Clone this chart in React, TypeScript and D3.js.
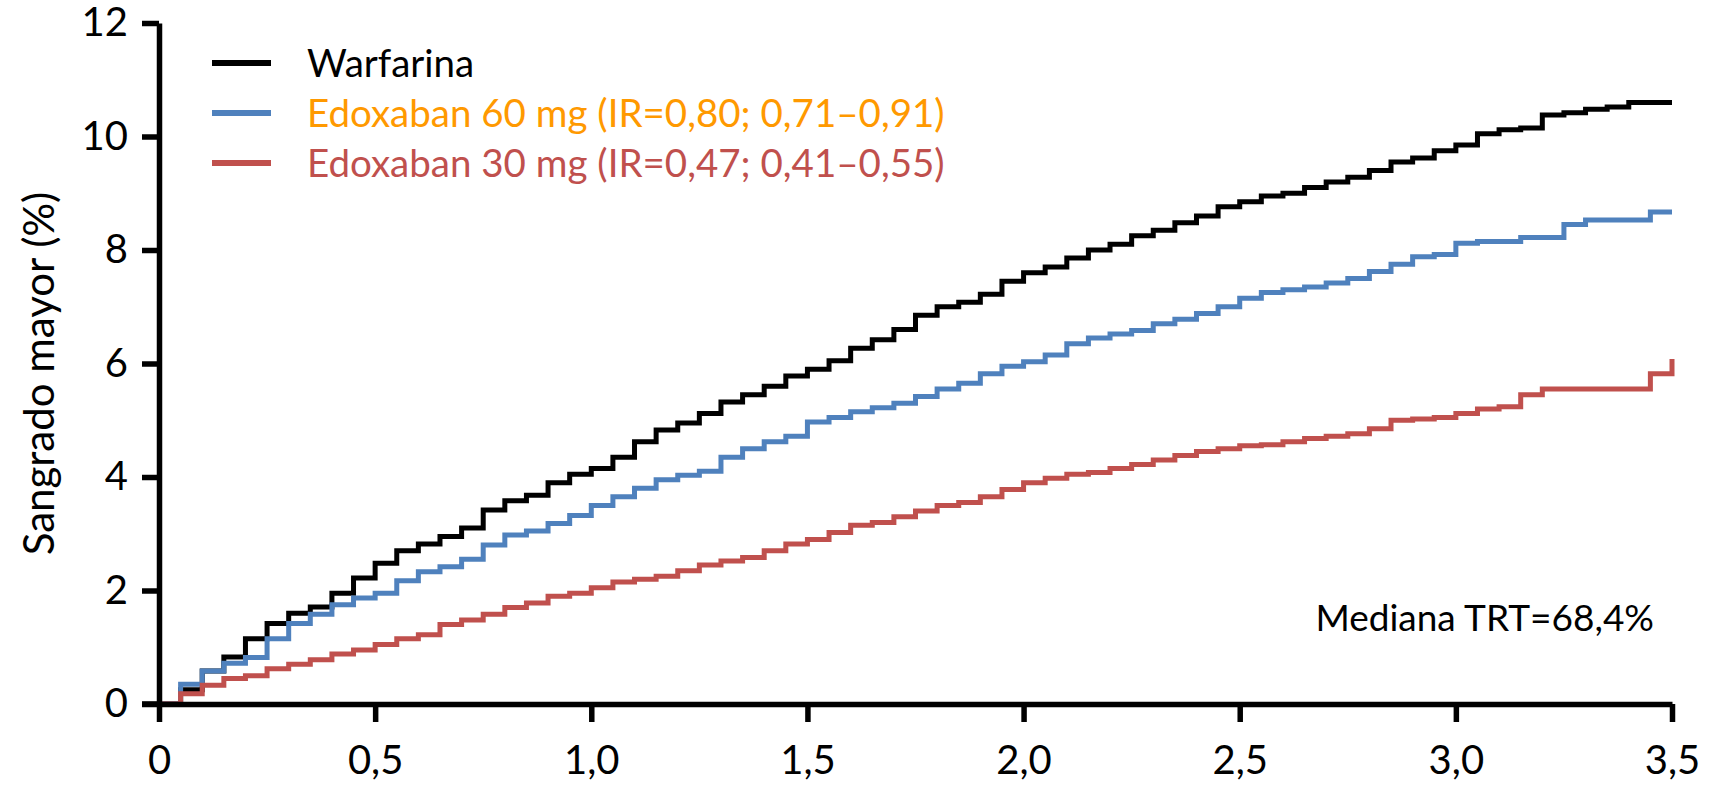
import React, { useEffect, useRef } from "react";
import * as d3 from "d3";

// follow-up time (years), shared grid for the three curves
const years = [
  0, 0.05, 0.1, 0.15, 0.2, 0.25, 0.3, 0.35, 0.4, 0.45,
  0.5, 0.55, 0.6, 0.65, 0.7, 0.75, 0.8, 0.85, 0.9, 0.95,
  1.0, 1.05, 1.1, 1.15, 1.2, 1.25, 1.3, 1.35, 1.4, 1.45,
  1.5, 1.55, 1.6, 1.65, 1.7, 1.75, 1.8, 1.85, 1.9, 1.95,
  2.0, 2.05, 2.1, 2.15, 2.2, 2.25, 2.3, 2.35, 2.4, 2.45,
  2.5, 2.55, 2.6, 2.65, 2.7, 2.75, 2.8, 2.85, 2.9, 2.95,
  3.0, 3.05, 3.1, 3.15, 3.2, 3.25, 3.3, 3.35, 3.4, 3.45, 3.5,
];

// cumulative major bleeding (%)
const warfarina = [
  0, 0.25, 0.58, 0.83, 1.15, 1.42, 1.6, 1.71, 1.95, 2.22,
  2.48, 2.7, 2.82, 2.95, 3.1, 3.42, 3.58, 3.68, 3.9, 4.05,
  4.15, 4.35, 4.62, 4.83, 4.95, 5.12, 5.32, 5.45, 5.6, 5.78,
  5.9, 6.05, 6.27, 6.42, 6.6, 6.85, 7.0, 7.08, 7.22, 7.45,
  7.6, 7.7, 7.86, 8.0, 8.1, 8.25, 8.35, 8.48, 8.6, 8.76,
  8.85, 8.95, 9.0, 9.1, 9.2, 9.28, 9.4, 9.55, 9.62, 9.75,
  9.85, 10.05, 10.12, 10.15, 10.38, 10.42, 10.48, 10.52, 10.6, 10.6, 10.6,
];
const edoxaban60 = [
  0, 0.35, 0.58, 0.72, 0.82, 1.15, 1.42, 1.58, 1.75, 1.87,
  1.95, 2.17, 2.33, 2.42, 2.55, 2.8, 2.98, 3.05, 3.18, 3.32,
  3.5, 3.65, 3.8, 3.95, 4.03, 4.1, 4.35, 4.5, 4.62, 4.72,
  4.97, 5.05, 5.15, 5.22, 5.3, 5.42, 5.55, 5.65, 5.82, 5.95,
  6.03, 6.15, 6.35, 6.45, 6.52, 6.58, 6.7, 6.78, 6.88, 7.0,
  7.15, 7.25, 7.3, 7.35, 7.42, 7.5, 7.62, 7.75, 7.88, 7.92,
  8.12, 8.15, 8.15, 8.22, 8.22, 8.45, 8.53, 8.53, 8.53, 8.67, 8.67,
];
const edoxaban30 = [
  0, 0.18, 0.33, 0.45, 0.5, 0.62, 0.7, 0.78, 0.88, 0.95,
  1.05, 1.15, 1.22, 1.4, 1.48, 1.58, 1.7, 1.78, 1.9, 1.95,
  2.05, 2.15, 2.2, 2.25, 2.35, 2.45, 2.52, 2.58, 2.7, 2.82,
  2.9, 3.02, 3.15, 3.2, 3.3, 3.4, 3.5, 3.55, 3.65, 3.78,
  3.9, 3.98, 4.05, 4.08, 4.15, 4.22, 4.3, 4.38, 4.45, 4.5,
  4.55, 4.57, 4.62, 4.68, 4.72, 4.76, 4.85, 5.0, 5.02, 5.05,
  5.12, 5.2, 5.24, 5.45, 5.55, 5.55, 5.55, 5.55, 5.55, 5.82, 6.08,
];

const seriesNames = [
  "Warfarina",
  "Edoxaban 60 mg (IR=0,80; 0,71–0,91)",
  "Edoxaban 30 mg (IR=0,47; 0,41–0,55)",
];
const lineColors = ["#000000", "#4F81BD", "#C0504D"];
const labelColors = ["#000000", "#FF9900", "#C0504D"];

const xTicks = [0, 0.5, 1, 1.5, 2, 2.5, 3, 3.5];
const yTicks = [0, 2, 4, 6, 8, 10, 12];
const yLabel = "Sangrado mayor (%)";
const note = "Mediana TRT=68,4%";

const width = 1710;
const height = 786;
const font = "Lato, 'Open Sans', sans-serif";

const esFormat = d3.formatLocale({
  decimal: ",",
  thousands: ".",
  grouping: [3],
  currency: ["", "€"],
}).format(".1f");

const App = () => {
  const ref = useRef<SVGSVGElement>(null);

  useEffect(() => {
    const svg = d3.select(ref.current);
    svg.selectAll("*").remove();

    const x = d3.scaleLinear().domain([0, 3.5]).range([159, 1672]);
    const y = d3.scaleLinear().domain([0, 12]).range([704, 23]);

    // curves
    const seriesValues = [warfarina, edoxaban60, edoxaban30];
    const line = d3
      .line<number>()
      .x((_, i) => x(years[i]))
      .y((d) => y(d))
      .curve(d3.curveStepAfter);

    seriesValues.forEach((vals, i) => {
      svg
        .append("path")
        .attr("d", line(vals))
        .attr("fill", "none")
        .attr("stroke", lineColors[i])
        .attr("stroke-width", 5);
    });

    // y axis
    const yAxis = svg
      .append("g")
      .attr("transform", "translate(159,0)")
      .call(
        d3
          .axisLeft(y)
          .tickValues(yTicks)
          .tickSize(17)
          .tickSizeOuter(0)
          .tickPadding(14)
          .tickFormat((d) => String(d))
      );

    // x axis
    const xAxis = svg
      .append("g")
      .attr("transform", "translate(0,704)")
      .call(
        d3
          .axisBottom(x)
          .tickValues(xTicks)
          .tickSize(18)
          .tickSizeOuter(0)
          .tickPadding(24)
          .tickFormat((d) => (d === 0 ? "0" : esFormat(d as number)))
      );

    [yAxis, xAxis].forEach((g) => {
      g.select(".domain").attr("stroke", "#000").attr("stroke-width", 5.5);
      g.selectAll(".tick line").attr("stroke", "#000").attr("stroke-width", 5.5);
      g.selectAll(".tick text")
        .attr("fill", "#000")
        .style("font-family", font)
        .style("font-size", "40px");
    });
    svg
      .append("line")
      .attr("x1", 142)
      .attr("x2", 159)
      .attr("y1", 704)
      .attr("y2", 704)
      .attr("stroke", "#000")
      .attr("stroke-width", 5.5);

    // y label
    svg
      .append("text")
      .attr("transform", `translate(54, ${(y(0) + y(12)) / 2 + 10}) rotate(-90)`)
      .attr("text-anchor", "middle")
      .style("font-family", font)
      .style("font-size", "42px")
      .attr("fill", "#000")
      .text(yLabel);

    // legend
    seriesNames.forEach((name, i) => {
      const ly = 63 + i * 50;
      svg
        .append("line")
        .attr("x1", 212)
        .attr("x2", 271)
        .attr("y1", ly)
        .attr("y2", ly)
        .attr("stroke", lineColors[i])
        .attr("stroke-width", 6);
      svg
        .append("text")
        .attr("x", 307)
        .attr("y", ly + 14)
        .style("font-family", font)
        .style("font-size", "38.5px")
        .attr("fill", labelColors[i])
        .text(name);
    });

    svg
      .append("text")
      .attr("x", 1654)
      .attr("y", 631)
      .attr("text-anchor", "end")
      .style("font-family", font)
      .style("font-size", "37px")
      .attr("fill", "#000")
      .text(note);
  }, []);

  return (
    <svg
      ref={ref}
      width={width}
      height={height}
      style={{ position: "absolute", left: 0, top: 0, background: "#fff" }}
    />
  );
};

export default App;
